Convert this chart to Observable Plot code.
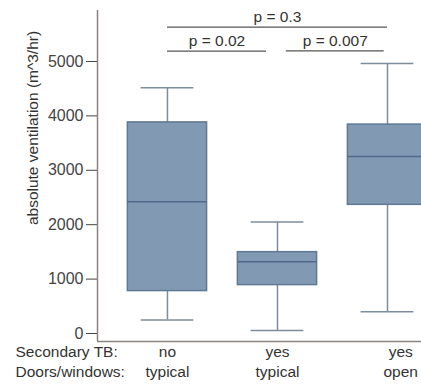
<!DOCTYPE html>
<html><head><meta charset="utf-8">
<script src="https://cdn.jsdelivr.net/npm/d3@7"></script>
<script src="https://cdn.jsdelivr.net/npm/@observablehq/plot@0.6"></script>
<style>body{margin:0;background:#fff;overflow:hidden}</style>
</head><body><div id="chart"></div>
<script>
// ---- data ----
const secondaryTB = ["no", "yes", "yes"];
const doorsWindows = ["typical", "typical", "open"];
const positions = [0, 1, 2];
const labelPositions = [0, 1, 2.12];
const whiskerLow = [250, 55, 400];
const q1 = [780, 890, 2365];
const median = [2420, 1320, 3255];
const q3 = [3880, 1495, 3840];
const whiskerHigh = [4515, 2050, 4965];
const yTicks = [0, 1000, 2000, 3000, 4000, 5000];
const yLabel = "absolute ventilation (m^3/hr)";
const rowLabels = ["Secondary TB:", "Doors/windows:"];
const compFrom = [0, 1.08, 0];
const compTo = [0.9, 1.97, 2];
const compLevel = [5190, 5195, 5630];
const compLabel = ["p = 0.02", "p = 0.007", "p = 0.3"];

// ---- build tables ----
const boxes = positions.map((p, i) => ({
  x: p, lo: whiskerLow[i], q1: q1[i], med: median[i], q3: q3[i], hi: whiskerHigh[i]
}));
const cats = positions.map((p, i) => ({x: labelPositions[i], tb: secondaryTB[i], dw: doorsWindows[i]}));
const comps = compLabel.map((l, i) => ({x1: compFrom[i], x2: compTo[i], y: compLevel[i], label: l}));

const xDomain = [-0.636, 2.309];
const yDomain = [-147, 5937];
const boxHalf = 0.36, capHalf = 0.24;
const fillC = "#8299b3", edgeC = "#5f7894", whiskC = "#7f8c9a", medC = "#50698a", axisC = "#8a8480";
const font = "Liberation Sans, Arial, Helvetica, sans-serif";

const chart = Plot.plot({
  width: 421, height: 390,
  marginLeft: 97, marginRight: 0, marginTop: 10, marginBottom: 49,
  style: {fontFamily: font, fontSize: "16px", color: "#444", background: "#fff"},
  x: {domain: xDomain, axis: null},
  y: {domain: yDomain, ticks: yTicks, tickSize: 11, tickPadding: 3, label: null, tickFormat: d => String(d)},
  marks: [
    // axis lines
    Plot.ruleX([xDomain[0]], {stroke: axisC, strokeWidth: 1.5}),
    Plot.ruleY([yDomain[0]], {stroke: axisC, strokeWidth: 1.5}),
    // whiskers
    Plot.ruleX(boxes, {x: "x", y1: "lo", y2: "q1", stroke: whiskC, strokeWidth: 1.5}),
    Plot.ruleX(boxes, {x: "x", y1: "q3", y2: "hi", stroke: whiskC, strokeWidth: 1.5}),
    Plot.ruleY(boxes, {y: "lo", x1: d => d.x - capHalf, x2: d => d.x + capHalf, stroke: whiskC, strokeWidth: 1.5}),
    Plot.ruleY(boxes, {y: "hi", x1: d => d.x - capHalf, x2: d => d.x + capHalf, stroke: whiskC, strokeWidth: 1.5}),
    // boxes
    Plot.rect(boxes, {x1: d => d.x - boxHalf, x2: d => d.x + boxHalf, y1: "q1", y2: "q3", fill: fillC, stroke: edgeC, strokeWidth: 1.5}),
    Plot.ruleY(boxes, {y: "med", x1: d => d.x - boxHalf, x2: d => d.x + boxHalf, stroke: medC, strokeWidth: 1.5}),
    // comparisons
    Plot.ruleY(comps, {y: "y", x1: "x1", x2: "x2", stroke: "#555", strokeWidth: 1.3}),
    Plot.text(comps, {x: d => (d.x1 + d.x2) / 2, y: "y", text: "label", lineAnchor: "bottom", dy: -5, fill: "#333", fontSize: 15.5}),
    // y label
    Plot.text([yLabel], {frameAnchor: "left", textAnchor: "middle", rotate: -90, dx: -64, dy: -48, fill: "#333", fontSize: 15.5}),
    // category labels
    Plot.text(cats, {x: "x", text: "tb", frameAnchor: "bottom", dy: 15, fill: "#333", fontSize: 15.5}),
    Plot.text(cats, {x: "x", text: "dw", frameAnchor: "bottom", dy: 35, fill: "#333", fontSize: 15.5}),
    Plot.text([rowLabels[0]], {frameAnchor: "bottom-left", textAnchor: "start", dx: -82, dy: 15, fill: "#333", fontSize: 15.5}),
    Plot.text([rowLabels[1]], {frameAnchor: "bottom-left", textAnchor: "start", dx: -82, dy: 35, fill: "#333", fontSize: 15.5})
  ]
});
document.getElementById("chart").append(chart);
</script>
</body></html>
